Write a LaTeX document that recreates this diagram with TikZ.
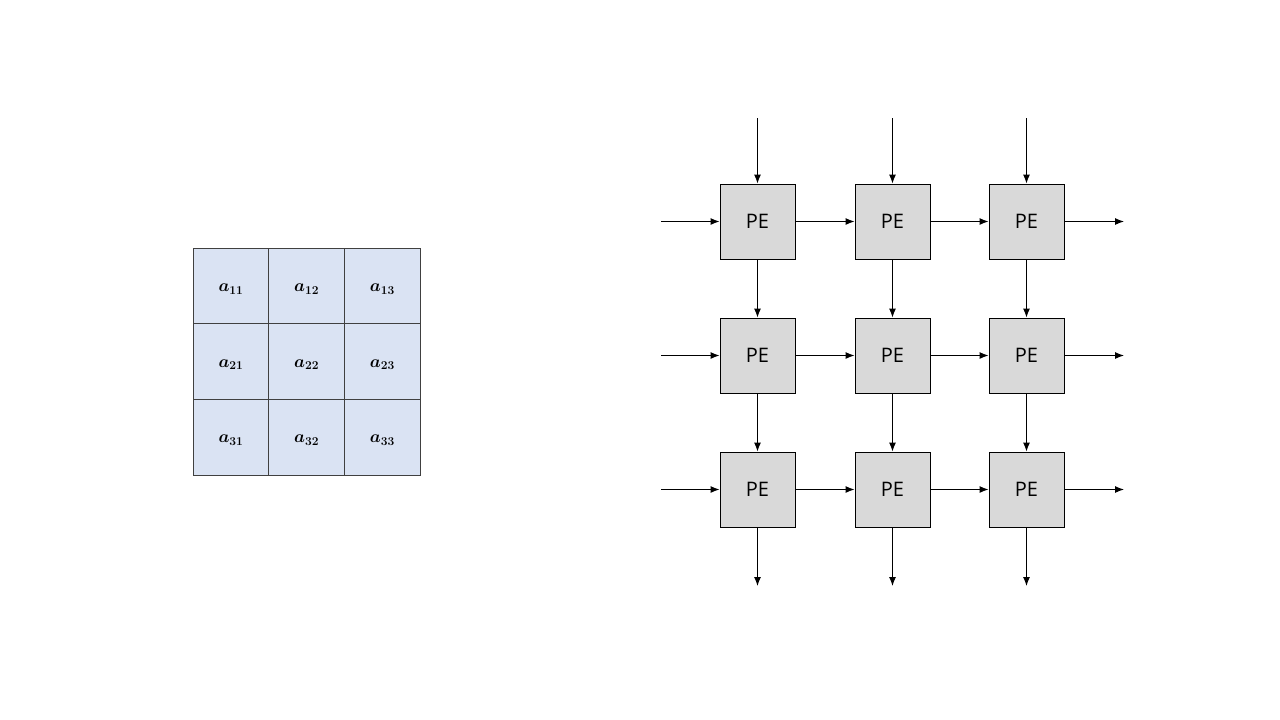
\documentclass[tikz,border=0pt]{standalone}
\usepackage{amsmath,bm}
\usepackage[no-math]{fontspec}
\setmainfont{Open Sans}
\usepackage{tikz}
\usetikzlibrary{arrows.meta}
\definecolor{cellcolor}{RGB}{218,227,243}
\definecolor{pecolor}{RGB}{217,217,217}

\begin{document}
\begin{tikzpicture}[x=1pt, y=-1pt,
    cell/.style={draw=black!75, fill=cellcolor, line width=1pt, minimum size=75.7pt, inner sep=0pt},
    celltext/.style={font=\fontsize{17}{19}\selectfont},
    pebox/.style={draw=black, fill=pecolor, line width=0.9pt, minimum size=75pt, inner sep=0pt, font=\fontsize{20}{24}\selectfont},
    flow/.style={line width=1.1pt, -{Latex[length=9pt,width=7pt]}}]
\useasboundingbox[fill=white] (0,0) rectangle (1280,720);
% input matrix
\node[cell] (a11) at (231.0, 286.0) {};
\node[cell] (a12) at (306.7, 286.0) {};
\node[cell] (a13) at (382.4, 286.0) {};
\node[cell] (a21) at (231.0, 361.7) {};
\node[cell] (a22) at (306.7, 361.7) {};
\node[cell] (a23) at (382.4, 361.7) {};
\node[cell] (a31) at (231.0, 437.4) {};
\node[cell] (a32) at (306.7, 437.4) {};
\node[cell] (a33) at (382.4, 437.4) {};
\node[celltext] (t11) at ([yshift=-3pt]a11) {$\bm{a}_{\bm{11}}$};
\node[celltext] (t12) at ([yshift=-3pt]a12) {$\bm{a}_{\bm{12}}$};
\node[celltext] (t13) at ([yshift=-3pt]a13) {$\bm{a}_{\bm{13}}$};
\node[celltext] (t21) at ([yshift=-3pt]a21) {$\bm{a}_{\bm{21}}$};
\node[celltext] (t22) at ([yshift=-3pt]a22) {$\bm{a}_{\bm{22}}$};
\node[celltext] (t23) at ([yshift=-3pt]a23) {$\bm{a}_{\bm{23}}$};
\node[celltext] (t31) at ([yshift=-3pt]a31) {$\bm{a}_{\bm{31}}$};
\node[celltext] (t32) at ([yshift=-3pt]a32) {$\bm{a}_{\bm{32}}$};
\node[celltext] (t33) at ([yshift=-3pt]a33) {$\bm{a}_{\bm{33}}$};
% processing elements
\node[pebox] (pe11) at (757.5, 221.5) {PE};
\node[pebox] (pe12) at (892.5, 221.5) {PE};
\node[pebox] (pe13) at (1026.5, 221.5) {PE};
\node[pebox] (pe21) at (757.5, 355.5) {PE};
\node[pebox] (pe22) at (892.5, 355.5) {PE};
\node[pebox] (pe23) at (1026.5, 355.5) {PE};
\node[pebox] (pe31) at (757.5, 489.5) {PE};
\node[pebox] (pe32) at (892.5, 489.5) {PE};
\node[pebox] (pe33) at (1026.5, 489.5) {PE};
% free ends
\coordinate (top1) at (757.5, 118);
\coordinate (top2) at (892.5, 118);
\coordinate (top3) at (1026.5, 118);
\coordinate (left1) at (661, 221.5);
\coordinate (left2) at (661, 355.5);
\coordinate (left3) at (661, 489.5);
\coordinate (right1) at (1124, 221.5);
\coordinate (right2) at (1124, 355.5);
\coordinate (right3) at (1124, 489.5);
\coordinate (bot1) at (757.5, 586);
\coordinate (bot2) at (892.5, 586);
\coordinate (bot3) at (1026.5, 586);
% vertical flow
\draw[flow] (top1) -- (pe11);
\draw[flow] (top2) -- (pe12);
\draw[flow] (top3) -- (pe13);
\draw[flow] (pe11) -- (pe21);
\draw[flow] (pe12) -- (pe22);
\draw[flow] (pe13) -- (pe23);
\draw[flow] (pe21) -- (pe31);
\draw[flow] (pe22) -- (pe32);
\draw[flow] (pe23) -- (pe33);
\draw[flow] (pe31) -- (bot1);
\draw[flow] (pe32) -- (bot2);
\draw[flow] (pe33) -- (bot3);
% horizontal flow
\draw[flow] (left1) -- (pe11);
\draw[flow] (left2) -- (pe21);
\draw[flow] (left3) -- (pe31);
\draw[flow] (pe11) -- (pe12);
\draw[flow] (pe21) -- (pe22);
\draw[flow] (pe31) -- (pe32);
\draw[flow] (pe12) -- (pe13);
\draw[flow] (pe22) -- (pe23);
\draw[flow] (pe32) -- (pe33);
\draw[flow] (pe13) -- (right1);
\draw[flow] (pe23) -- (right2);
\draw[flow] (pe33) -- (right3);
\end{tikzpicture}
\end{document}
